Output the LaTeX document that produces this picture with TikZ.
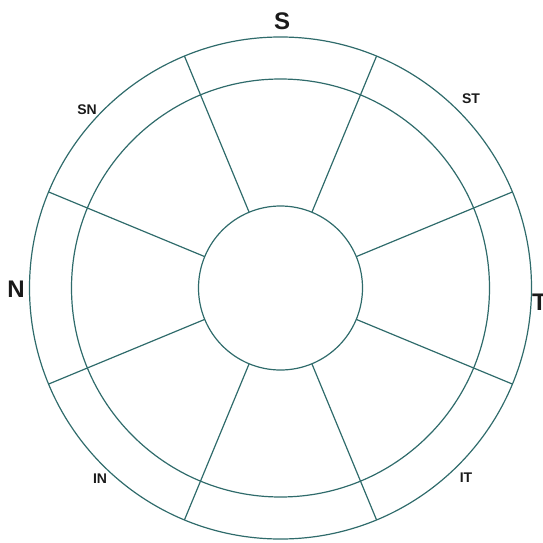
\documentclass[tikz,border=0pt]{standalone}
\usepackage{fontspec}
\setmainfont{Liberation Sans}
\usetikzlibrary{calc}
\definecolor{cteal}{HTML}{2F6B6B}
\definecolor{cink}{HTML}{1A1A1A}
\tikzset{
  every picture/.style={line width=1.2pt},
  ring/.style={draw=cteal},
  spoke/.style={draw=cteal},
  big/.style={font=\bfseries\fontsize{24}{24}\selectfont, text=cink, inner sep=0pt},
  small/.style={font=\bfseries\fontsize{14}{14}\selectfont, text=cink, inner sep=0pt},
}

\begin{document}
\begin{tikzpicture}[x=1pt,y=-1pt]
  \useasboundingbox (0,0) rectangle (543,543);
  \coordinate (o) at (280.5,288);
  % three rings
  \draw[ring] (o) circle (251pt);
  \draw[ring] (o) circle (209pt);
  \draw[ring] (o) circle (82pt);
  % eight spokes
  \foreach \a in {22.5,67.5,...,337.5}
    \draw[spoke] ($(o)+(\a:82pt)$) -- ($(o)+(\a:251pt)$);
  % labels
  \node[big] (s) at (282,21) {S};
  \node[big] (n) at (16,289) {N};
  \node[big] (t) at (539.5,302) {T};
  \node[small] (sn) at (87,110) {SN};
  \node[small] (st) at (471,99) {ST};
  \node[small] (in) at (100,479) {IN};
  \node[small] (it) at (466,478) {IT};
\end{tikzpicture}
\end{document}
